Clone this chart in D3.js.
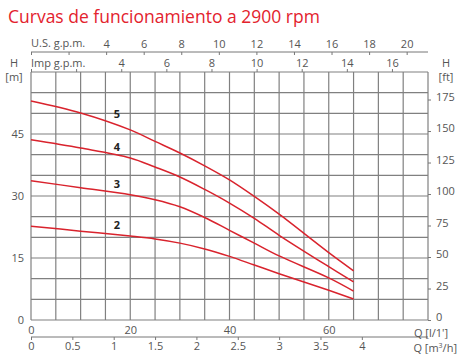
<!DOCTYPE html>
<html lang="es">
<head>
<meta charset="UTF-8">
<title>Curvas de funcionamiento</title>
<script src="https://d3js.org/d3.v7.min.js"></script>
<style>
  body { margin: 0; background: #fff; }
  text { font-family: "Open Sans", "Noto Sans", sans-serif; }
  .axis text { fill: #555; font-size: 11px; }
  .axis path, .axis line { stroke: #777; }
</style>
</head>
<body>
<div id="chart"></div>
<script>
// Q in l/min, H in m
const flows = [0, 10, 20, 25, 30, 35, 40, 45, 50, 60, 65];
const curve5 = [53.0, 50.1, 46.0, 43.2, 40.4, 37.3, 33.9, 29.9, 25.6, 16.3, 11.9];
const curve4 = [43.6, 41.6, 39.2, 37.0, 34.6, 31.6, 28.3, 24.6, 20.5, 12.9, 9.2];
const curve3 = [33.7, 32.0, 30.3, 29.1, 27.4, 24.8, 21.7, 18.6, 15.5, 10.2, 7.0];
const curve2 = [22.7, 21.5, 20.3, 19.6, 18.6, 17.2, 15.4, 13.3, 11.2, 7.2, 5.1];
const series = [
  { name: "5", values: curve5, label: 49.9 },
  { name: "4", values: curve4, label: 41.9 },
  { name: "3", values: curve3, label: 32.9 },
  { name: "2", values: curve2, label: 23.0 }
];
const labelQ = 17.3;

const usTicks = [2, 4, 6, 8, 10, 12, 14, 16, 18, 20];
const impTicks = [2, 4, 6, 8, 10, 12, 14, 16];
const mTicks = [0, 15, 30, 45];
const ftTicks = [0, 25, 50, 75, 100, 125, 150, 175];
const lminTicks = [0, 20, 40, 60];
const m3hTicks = [0, 0.5, 1, 1.5, 2, 2.5, 3, 3.5, 4];

const width = 471, height = 362;
const plotLeft = 31, plotRight = 428, plotTop = 72, plotBottom = 320;

const svg = d3.select("#chart").append("svg")
  .attr("width", width).attr("height", height);

const x = d3.scaleLinear().domain([0, 80]).range([plotLeft, plotRight]);
const y = d3.scaleLinear().domain([0, 60]).range([plotBottom, plotTop]);
const yFt = d3.scaleLinear().domain([0, 60 / 0.3048]).range([plotBottom, plotTop]);
const xUS = d3.scaleLinear().domain([0, 80 / 3.785]).range([plotLeft, plotRight]);
const xImp = d3.scaleLinear().domain([0, 80 / 4.546]).range([plotLeft, plotRight]);
const xM3 = d3.scaleLinear().domain([0, 4.8]).range([plotLeft, plotRight]);

// title
svg.append("text")
  .attr("x", 8).attr("y", 23)
  .attr("fill", "#e3222d")
  .attr("font-size", 17.5)
  .text("Curvas de funcionamiento a 2900 rpm");

// grid
const grid = svg.append("g").attr("stroke", "#808080").attr("stroke-width", 1.2);
grid.selectAll(".v").data(d3.range(0, 81, 5)).join("line").attr("class", "v")
  .attr("x1", d => x(d)).attr("x2", d => x(d))
  .attr("y1", plotTop).attr("y2", plotBottom);
grid.selectAll(".h").data(d3.range(0, 61, 5)).join("line").attr("class", "h")
  .attr("y1", d => y(d)).attr("y2", d => y(d))
  .attr("x1", plotLeft).attr("x2", plotRight);

// top axis: US gpm
const usAxis = svg.append("g").attr("class", "axis")
  .attr("transform", `translate(0,52)`)
  .call(d3.axisTop(xUS).tickValues([0, ...usTicks]).tickSize(-3).tickPadding(4)
    .tickFormat(d => d < 4 ? "" : d));
usAxis.select(".domain").attr("d", `M${plotLeft},0H${plotRight}`);
usAxis.append("text").attr("x", plotLeft).attr("y", -5).attr("text-anchor", "start")
  .text("U.S. g.p.m.");

// imp gpm
const impAxis = svg.append("g").attr("class", "axis")
  .attr("transform", `translate(0,${plotTop})`)
  .call(d3.axisTop(xImp).tickValues([0, ...impTicks]).tickSize(3).tickPadding(2)
    .tickFormat(d => d < 4 ? "" : d));
impAxis.select(".domain").remove();
impAxis.append("text").attr("x", plotLeft).attr("y", -5).attr("text-anchor", "start")
  .text("Imp g.p.m.");

// left axis m
const mAxis = svg.append("g").attr("class", "axis")
  .attr("transform", `translate(${plotLeft},0)`)
  .call(d3.axisLeft(y).tickValues(mTicks).tickSize(0).tickPadding(7));
mAxis.select(".domain").remove();

// right axis ft
const ftAxis = svg.append("g").attr("class", "axis")
  .attr("transform", `translate(${plotRight},0)`)
  .call(d3.axisRight(yFt).tickValues(ftTicks).tickSize(3).tickPadding(5));
ftAxis.select(".domain").remove();
ftAxis.selectAll("text").attr("dy", "0.05em");

// bottom l/min
const qAxis = svg.append("g").attr("class", "axis")
  .attr("transform", `translate(0,${plotBottom})`)
  .call(d3.axisBottom(x).tickValues(lminTicks).tickSize(0).tickPadding(6));
qAxis.select(".domain").remove();

// bottom m3/h
const m3Axis = svg.append("g").attr("class", "axis")
  .attr("transform", `translate(0,337)`)
  .call(d3.axisBottom(xM3).tickValues(m3hTicks).tickSize(3).tickPadding(2)
    .tickFormat(d3.format("")));
m3Axis.select(".domain").attr("d", `M${plotLeft},0H${plotRight}`);

// unit labels
const units = svg.append("g").attr("fill", "#555").attr("font-size", 11);
units.append("text").attr("x", 14).attr("y", 67).attr("text-anchor", "middle").text("H");
units.append("text").attr("x", 14).attr("y", 81).attr("text-anchor", "middle").text("[m]");
units.append("text").attr("x", 446).attr("y", 67).attr("text-anchor", "middle").text("H");
units.append("text").attr("x", 446).attr("y", 81).attr("text-anchor", "middle").text("[ft]");
units.append("text").attr("x", 448).attr("y", 336.5).attr("text-anchor", "end").text("Q [l/1']");
const m3 = units.append("text").attr("x", 457).attr("y", 352).attr("text-anchor", "end");
m3.append("tspan").text("Q [m");
m3.append("tspan").attr("font-size", 7).attr("dy", -4).text("3");
m3.append("tspan").attr("dy", 4).text("/h]");

// curves
const line = d3.line()
  .x((d, i) => x(flows[i]))
  .y(d => y(d))
  .curve(d3.curveCatmullRom.alpha(0.5));

svg.append("g").selectAll("path").data(series).join("path")
  .attr("d", d => line(d.values))
  .attr("fill", "none")
  .attr("stroke", "#d9232d")
  .attr("stroke-width", 1.5);

svg.append("g").selectAll("text").data(series).join("text")
  .attr("x", x(labelQ)).attr("y", d => y(d.label) + 4)
  .attr("text-anchor", "middle")
  .attr("font-size", 11).attr("font-weight", "bold").attr("fill", "#222")
  .text(d => d.name);
</script>
</body>
</html>
